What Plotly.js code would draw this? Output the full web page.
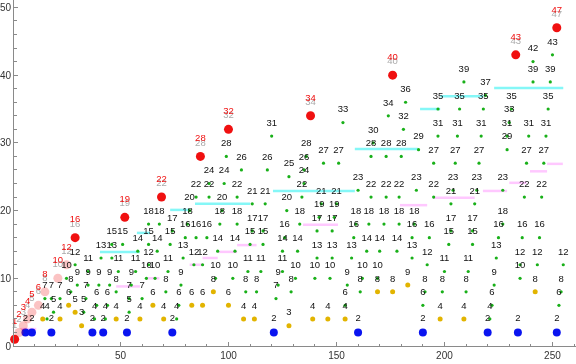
<!DOCTYPE html>
<html><head><meta charset="utf-8">
<script src="https://cdn.plot.ly/plotly-3.0.1.min.js"></script>
<style>html,body{margin:0;padding:0;background:#fff}#chart{width:576px;height:364px}</style>
</head><body><div id="chart"></div>
<script>
// ---- data ----
const redX = [1, 3, 5, 7, 9, 12, 15, 21, 25, 29, 52, 69, 87, 100, 138, 176, 233, 252];
const redY = [1, 2, 3, 4, 5, 6, 8, 10, 12, 16, 19, 22, 28, 32, 34, 40, 43, 47];

const blueX = [6, 9, 18, 37, 42, 53, 74, 121, 160, 190, 220, 234, 252];
const blueY = [2, 2, 2, 2, 2, 2, 2, 2, 2, 2, 2, 2, 2];

const yellowX = [32, 128, 14, 22, 48, 59, 70, 107, 112, 139, 146, 154, 198, 209, 29, 26, 65, 83, 88, 100, 93, 169, 176, 242, 183];
const yellowY = [3, 3, 4, 4, 4, 4, 4, 4, 4, 4, 4, 4, 4, 4, 5, 6, 6, 6, 6, 6, 8, 8, 8, 8, 9];

const greenX = [
  16, 38, 43, 76, 221,
  19, 33, 54,
  39, 44, 77, 154, 190, 222, 253,
  15, 18, 22, 34, 54, 60, 122,
  27, 48, 71, 108, 113, 129, 161, 191, 199, 210, 254,
  30, 35, 40, 45, 55, 78, 123, 155, 223,
  25, 62, 66, 94, 102, 131, 140, 147, 162, 169, 235,
  35, 49, 57, 72, 109, 115, 125, 200, 211,
  29, 63, 84, 88, 192, 235, 243, 255,
  41, 46, 79, 141, 148, 157, 185, 224,
  58, 67, 95, 103, 125, 132, 164, 170, 178,
  46, 51, 63, 73, 110, 116, 202, 213,
  80, 85, 90, 126, 158, 185, 193, 225, 236, 244,
  74, 111, 116, 141, 148, 203, 213,
  63, 68, 81, 96, 104, 133, 159, 165, 172, 179, 186, 227,
  142, 149,
  82, 97, 127,
  111, 117, 143, 150, 203, 214,
  85, 91, 104, 134, 166, 173, 179, 195, 237, 245,
  160, 187, 204, 215, 227,
  91, 98, 135,
  128,
  106, 118, 135,
  144, 151, 195, 205, 216, 238, 246,
  99, 136, 166, 173, 180,
  188, 229,
  167,
  120, 197, 206, 217, 229, 239, 247,
  181,
  153, 230,
  174,
  197, 207, 218, 231, 248,
  182,
  219,
  209, 241, 249,
  241,
  250
];
const greenY = [
  4, 4, 4, 4, 4,
  5, 5, 5,
  6, 6, 6, 6, 6, 6, 6,
  7, 7, 7, 7, 7, 7, 7,
  8, 8, 8, 8, 8, 8, 8, 8, 8, 8, 8,
  9, 9, 9, 9, 9, 9, 9, 9, 9,
  10, 10, 10, 10, 10, 10, 10, 10, 10, 10, 10,
  11, 11, 11, 11, 11, 11, 11, 11, 11,
  12, 12, 12, 12, 12, 12, 12, 12,
  13, 13, 13, 13, 13, 13, 13, 13,
  14, 14, 14, 14, 14, 14, 14, 14, 14,
  15, 15, 15, 15, 15, 15, 15, 15,
  16, 16, 16, 16, 16, 16, 16, 16, 16, 16,
  17, 17, 17, 17, 17, 17, 17,
  18, 18, 18, 18, 18, 18, 18, 18, 18, 18, 18, 18,
  19, 19,
  20, 20, 20,
  21, 21, 21, 21, 21, 21,
  22, 22, 22, 22, 22, 22, 22, 22, 22, 22,
  23, 23, 23, 23, 23,
  24, 24, 24,
  25,
  26, 26, 26,
  27, 27, 27, 27, 27, 27, 27,
  28, 28, 28, 28, 28,
  29, 29,
  30,
  31, 31, 31, 31, 31, 31, 31,
  32,
  33, 33,
  34,
  35, 35, 35, 35, 35,
  36,
  37,
  39, 39, 39,
  42,
  43
];

// faint step segments (level, start, end)
const cyanLevel = [13.9, 16.7, 20.1, 21.0, 22.9, 29.1, 35.0, 36.9, 38.1];
const cyanStart = [40.5, 57.6, 73, 84.5, 120.6, 158.5, 188.7, 198, 223];
const cyanEnd   = [59, 63.7, 82, 110, 158.5, 187.7, 198, 218, 255];

const pinkLevel = [2.5, 8.8, 10, 12, 13, 13.9, 14.9, 17.9, 20.8, 21.9, 22.9, 24.1, 25.8, 26.9];
const pinkStart = [4, 48, 62, 82, 88, 95, 104, 134.5, 179.4, 194.7, 217.8, 230, 239.6, 247.5];
const pinkEnd   = [11, 59, 68, 88, 95, 104, 113, 150.7, 192, 214, 229, 238, 247.5, 254.8];

// ---- drawing ----
const FONT = 'Liberation Sans, Arial, Helvetica, sans-serif';

function segTrace(level, start, end, color) {
  const xs = [], ys = [];
  for (let i = 0; i < level.length; i++) {
    xs.push(start[i], end[i], null);
    ys.push(level[i], level[i], null);
  }
  return {type: 'scatter', mode: 'lines', x: xs, y: ys, line: {color: color, width: 2.5},
          opacity: 0.55, hoverinfo: 'skip', showlegend: false, cliponaxis: false};
}
function dotTrace(xs, ys, color, size, opac) {
  return {type: 'scatter', mode: 'markers', x: xs, y: ys,
          marker: {color: color, size: size, opacity: opac || 1, line: {width: 0}},
          hoverinfo: 'skip', showlegend: false, cliponaxis: false};
}
function labelTrace(xs, ys, color, offsetSize) {
  return {type: 'scatter', mode: 'markers+text', x: xs, y: ys, text: ys.map(String),
          textposition: 'top center',
          textfont: {family: FONT, size: 9.5, color: color},
          marker: {size: offsetSize, color: 'rgba(0,0,0,0)', line: {width: 0}},
          hoverinfo: 'skip', showlegend: false, cliponaxis: false};
}

const redOpacity = redY.map(v => (v > 1 && v < 16) ? 0.25 : 1);

const traces = [
  segTrace(pinkLevel, pinkStart, pinkEnd, '#ff9cff'),
  segTrace(cyanLevel, cyanStart, cyanEnd, '#22f0f0'),
  dotTrace(greenX, greenY, '#19b019', 3.2),
  dotTrace(yellowX, yellowY, '#e2b400', 5),
  dotTrace(blueX, blueY, '#0a14f0', 8),
  {type: 'scatter', mode: 'markers', x: redX, y: redY,
   marker: {color: '#f01010', size: 9, opacity: redOpacity, line: {width: 0}},
   hoverinfo: 'skip', showlegend: false, cliponaxis: false},
  labelTrace(greenX, greenY, '#111', 11),
  labelTrace(yellowX, yellowY, '#111', 11),
  labelTrace(blueX, blueY, '#111', 13),
  labelTrace(redX, redY, '#aaaaaa', 12),
  labelTrace(redX, redY, '#f01010', 19)
];

const axisCol = '#8a8a8a';
const layout = {
  width: 576, height: 364,
  margin: {l: 14, r: 0, t: 0, b: 18, pad: 0},
  paper_bgcolor: '#fff', plot_bgcolor: '#fff',
  showlegend: false,
  xaxis: {range: [0.7, 260.9], showgrid: false, zeroline: false,
          showline: true, linecolor: axisCol, linewidth: 1,
          ticks: 'inside', ticklen: 4, tickcolor: axisCol, tick0: 0, dtick: 50,
          tickfont: {family: FONT, size: 10, color: '#333'},
          minor: {dtick: 10, tick0: 0, ticks: 'inside', ticklen: 2.5, tickcolor: axisCol, showgrid: false}},
  yaxis: {range: [0, 51.1], showgrid: false, zeroline: false,
          showline: true, linecolor: axisCol, linewidth: 1,
          ticks: 'inside', ticklen: 4, tickcolor: axisCol, tick0: 0, dtick: 10,
          tickfont: {family: FONT, size: 10, color: '#333'},
          minor: {dtick: 2, tick0: 0, ticks: 'inside', ticklen: 2.5, tickcolor: axisCol, showgrid: false}}
};

Plotly.newPlot('chart', traces, layout, {staticPlot: true, displayModeBar: false});
</script>
</body></html>
